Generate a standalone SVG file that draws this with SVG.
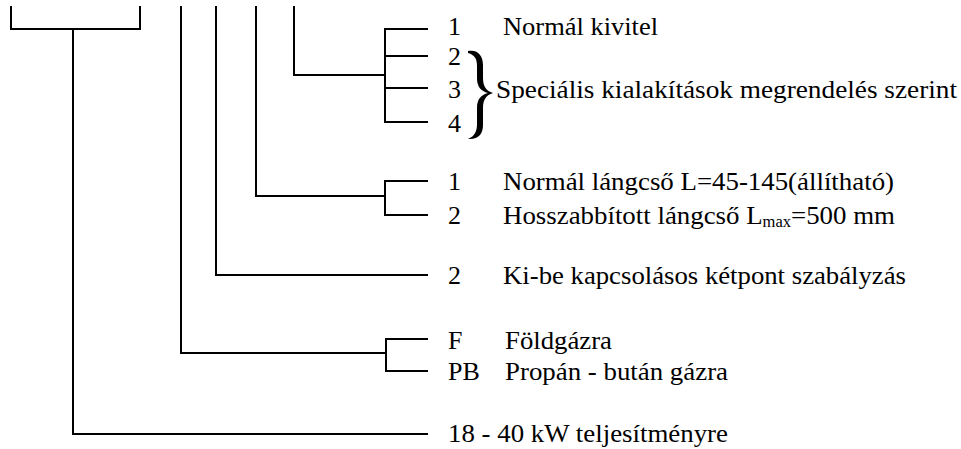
<svg xmlns="http://www.w3.org/2000/svg" width="961" height="449" viewBox="0 0 961 449">
<style>
.ln{fill:none;stroke:#000;stroke-width:2;stroke-linecap:square}
.t{font-family:"Liberation Serif","Times New Roman",serif;font-size:26px;fill:#000}
.sub{font-size:16px}
</style>
<rect width="961" height="449" fill="#fff"/>
<g id="connectors">
<path class="ln" d="M11,7 V29 H140 V7"/>
<path class="ln" d="M73,29 V434 H427"/>
<path class="ln" d="M181,7 V353 H386"/>
<path class="ln" d="M386,339 V371"/>
<path class="ln" d="M386,339 H427 M386,371 H427"/>
<path class="ln" d="M216,7 V275 H427"/>
<path class="ln" d="M256,7 V196 H385"/>
<path class="ln" d="M385,181 V215 M385,181 H427 M385,215 H427"/>
<path class="ln" d="M294,7 V75 H385"/>
<path class="ln" d="M385,29 V122 M385,29 H427 M385,56 H427 M385,88 H427 M385,122 H427"/>
</g>
<g id="brace">
<path d="M468,51 C478,49 483,56 483,65 L483,78 C483,86 486,91 493,93 C486,95 483,100 483,108 L483,125 C483,134 478,140 468,139 C475,136 477,131 477,124 L477,108 C477,99 481,95 488,93 C481,91 477,87 477,78 L477,66 C477,59 475,55 468,53 Z" fill="#000"/>
</g>
<g id="opt-kivitel">
<text class="t" x="448" y="35">1</text>
<text class="t" x="503" y="35" textLength="155" lengthAdjust="spacingAndGlyphs">Normál kivitel</text>
<text class="t" x="448" y="65">2</text>
<text class="t" x="448" y="98">3</text>
<text class="t" x="448" y="132">4</text>
<text class="t" x="496" y="98" textLength="461" lengthAdjust="spacingAndGlyphs">Speciális kialakítások megrendelés szerint</text>
</g>
<g id="opt-langcso">
<text class="t" x="448" y="190">1</text>
<text class="t" x="503" y="190" textLength="391" lengthAdjust="spacingAndGlyphs">Normál lángcső L=45-145(állítható)</text>
<text class="t" x="448" y="224">2</text>
<text class="t" x="503" y="224" textLength="392" lengthAdjust="spacingAndGlyphs">Hosszabbított lángcső L<tspan class="sub" dy="3">max</tspan><tspan dy="-3">=500 mm</tspan></text>
</g>
<g id="opt-szabalyzas">
<text class="t" x="448" y="284">2</text>
<text class="t" x="503" y="284" textLength="403" lengthAdjust="spacingAndGlyphs">Ki-be kapcsolásos kétpont szabályzás</text>
</g>
<g id="opt-gaz">
<text class="t" x="448" y="349">F</text>
<text class="t" x="505" y="349" textLength="107" lengthAdjust="spacingAndGlyphs">Földgázra</text>
<text class="t" x="448" y="380">PB</text>
<text class="t" x="505" y="380" textLength="223" lengthAdjust="spacingAndGlyphs">Propán - bután gázra</text>
</g>
<g id="opt-teljesitmeny">
<text class="t" x="448" y="442" textLength="280" lengthAdjust="spacingAndGlyphs">18 - 40 kW teljesítményre</text>
</g>
</svg>
